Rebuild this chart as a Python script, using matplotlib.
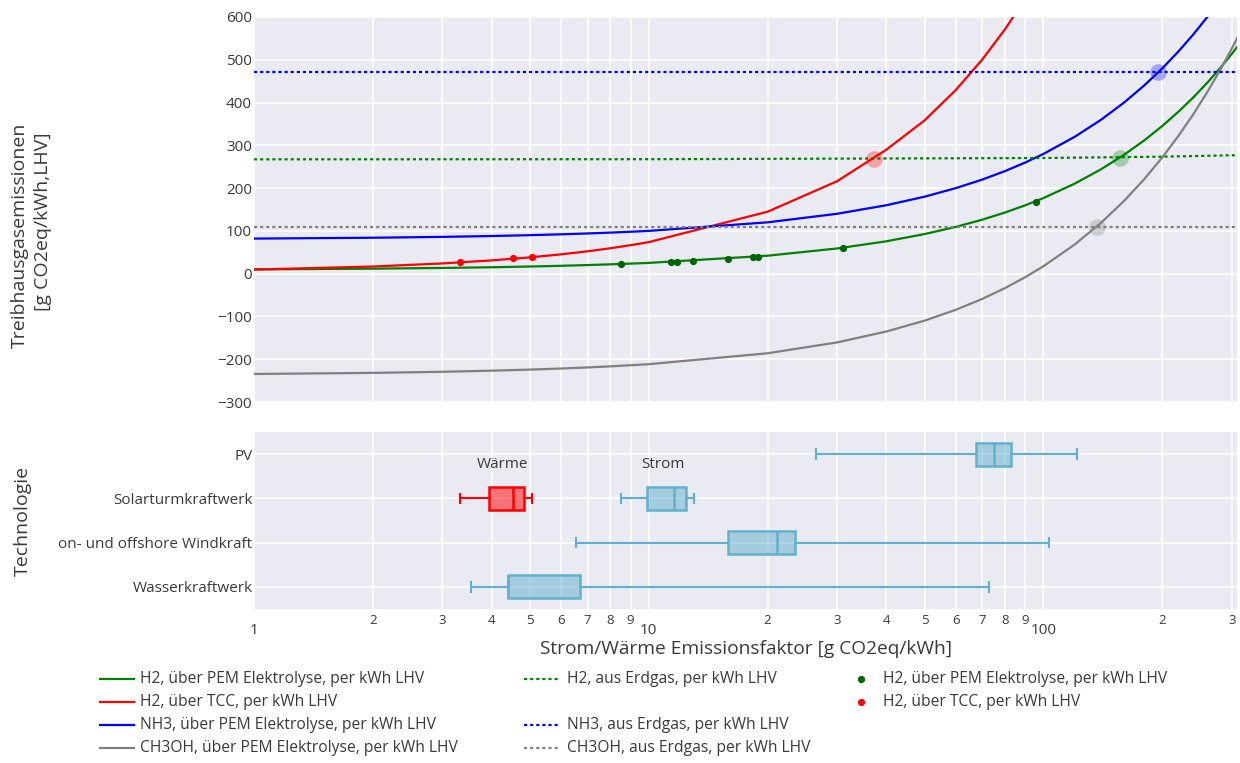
import matplotlib
matplotlib.use("Agg")
import matplotlib.pyplot as plt
from matplotlib.lines import Line2D
from matplotlib.ticker import FixedLocator, FixedFormatter, NullFormatter

plt.rcParams["font.family"] = ["Open Sans", "DejaVu Sans"]
TXT = "#3a3a3a"
BG = "#EAEAF2"

# ---------------- data ----------------
# emission factor of the electricity / heat supply [g CO2eq/kWh]
ef = [1, 2, 3, 4, 5, 6, 7, 8, 9, 10, 20, 30, 40, 50, 60, 70, 80, 90, 100,
      120, 140, 160, 180, 200, 220, 240, 260, 280, 300, 320]

h2_pem = [10.0, 11.7, 13.4, 15.0, 16.7, 18.4, 20.1, 21.8, 23.5, 25.2, 42.0, 58.9,
          75.7, 92.6, 109.4, 126.3, 143.1, 160.0, 176.8, 210.5, 244.2, 277.9,
          311.6, 345.3, 379.0, 412.7, 446.4, 480.1, 513.8, 547.5]
nh3_pem = [82, 84, 86, 88, 90, 92, 94, 96, 98, 100, 120, 140, 160, 180, 200, 220,
           240, 260, 280, 320, 360, 400, 440, 480, 520, 560, 600, 640, 680, 720]
ch3oh_pem = [-234.5, -231.9, -229.4, -226.8, -224.3, -221.7, -219.2, -216.6,
             -214.1, -211.6, -186.1, -160.7, -135.2, -109.8, -84.4, -58.9, -33.5,
             -8.0, 17.4, 68.3, 119.2, 170.0, 220.9, 271.8, 322.7, 373.6, 424.4,
             475.3, 526.2, 577.1]

ef_tcc = [1, 2, 3, 4, 5, 6, 7, 8, 9, 10, 20, 30, 40, 50, 60, 70, 80, 90]
h2_tcc = [9.6, 16.7, 23.9, 31.0, 38.1, 45.2, 52.3, 59.5, 66.6, 73.7, 144.9,
          216.1, 290.0, 358.5, 429.7, 500.9, 572.1, 643.3]

ef_gas = [1, 10, 100, 200, 320]
h2_gas = [267.3, 267.6, 270.4, 273.5, 277.2]
nh3_gas = [472, 472, 472, 472, 472]
ch3oh_gas = [110, 110, 110, 110, 110]

# break-even points (electrolysis / TCC route vs. natural gas route)
be_x = [37.3, 156.5, 195.4, 136.4]
be_y = [267.5, 271.0, 472.0, 110.0]
be_col = ["red", "green", "blue", "gray"]

# individual supply technologies placed on the curves
pts_pem_x = [8.52, 11.36, 11.81, 12.97, 15.85, 18.4, 18.94, 31.0, 95.7]
pts_pem_y = [22.0, 27.0, 27.5, 29.5, 34.5, 39.0, 39.5, 61.0, 168.5]
pts_tcc_x = [3.33, 4.52, 5.06]
pts_tcc_y = [27.5, 35.5, 40.0]

# box statistics per technology (electricity)
tech = ["Wasserkraftwerk", "on- und offshore Windkraft", "Solarturmkraftwerk", "PV"]
strom_lo = [3.55, 6.55, 8.51, 26.5]
strom_q1 = [4.40, 15.87, 9.92, 67.3]
strom_med = [4.40, 21.1, 11.59, 74.9]
strom_q3 = [6.70, 23.52, 12.42, 82.5]
strom_hi = [72.8, 103.5, 13.0, 121.9]
# heat from the solar tower
waerme_lo, waerme_q1, waerme_med, waerme_q3, waerme_hi = 3.33, 3.94, 4.52, 4.84, 5.06

major_x = [1, 10, 100]
major_lbl = ["1", "10", "100"]
minor_x = [2, 3, 4, 5, 6, 7, 8, 9, 20, 30, 40, 50, 60, 70, 80, 90, 200, 300]
minor_lbl = ["2", "3", "4", "5", "6", "7", "8", "9",
             "2", "3", "4", "5", "6", "7", "8", "9", "2", "3"]

# ---------------- figure ----------------
W, H = 1240, 763
fig = plt.figure(figsize=(W / 100, H / 100), dpi=100)


def fx(px):
    return px / W


def fy(py):
    return 1 - py / H


L, R = 254, 1237
ax = fig.add_axes([fx(L), fy(402), fx(R) - fx(L), fy(17) - fy(402)])
axb = fig.add_axes([fx(L), fy(609), fx(R) - fx(L), fy(432) - fy(609)])

XMAX = 309.2
for a in (ax, axb):
    a.set_facecolor(BG)
    a.set_xscale("log")
    a.set_xlim(1, XMAX)
    a.xaxis.set_major_locator(FixedLocator(major_x))
    a.xaxis.set_minor_locator(FixedLocator(minor_x))
    a.grid(True, which="both", color="white", lw=1.1)
    a.set_axisbelow(True)
    for s in a.spines.values():
        s.set_visible(False)
    a.tick_params(axis="both", which="both", length=0, colors=TXT)

ax.xaxis.set_major_formatter(NullFormatter())
ax.xaxis.set_minor_formatter(NullFormatter())
axb.xaxis.set_major_formatter(FixedFormatter(major_lbl))
axb.xaxis.set_minor_formatter(FixedFormatter(minor_lbl))
axb.tick_params(axis="x", which="major", pad=10.3, labelsize=11)
axb.tick_params(axis="x", which="minor", pad=3.3, labelsize=9.5)

# upper panel
LW = 1.6
DOT = (0, (1.4, 1.35))
ax.set_ylim(-300, 600)
ax.set_yticks(range(-300, 601, 100))
ax.tick_params(axis="y", pad=1.5, labelsize=11)

ax.plot(ef, h2_pem, color="green", lw=LW, zorder=3)
ax.plot(ef_tcc, h2_tcc, color="red", lw=LW, zorder=3)
ax.plot(ef, nh3_pem, color="blue", lw=LW, zorder=3)
ax.plot(ef, ch3oh_pem, color="gray", lw=LW, zorder=3)
ax.plot(ef_gas, h2_gas, color="green", lw=LW, ls=DOT, zorder=3)
ax.plot(ef_gas, nh3_gas, color="blue", lw=LW, ls=DOT, zorder=3)
ax.plot(ef_gas, ch3oh_gas, color="gray", lw=LW, ls=DOT, zorder=3)
for x, y, c in zip(be_x, be_y, be_col):
    ax.plot([x], [y], "o", ms=12, color=c, alpha=0.3, mec="none", zorder=4)
ax.plot(pts_pem_x, pts_pem_y, "o", ms=5.2, color="#006400", mec="none", zorder=5)
ax.plot(pts_tcc_x, pts_tcc_y, "o", ms=5.2, color="red", mec="none", zorder=5)

# lower panel
axb.set_ylim(-0.5, 3.5)
axb.tick_params(axis="y", pad=1, labelsize=11)

BLUE_EDGE = "#62B0CC"
stats_strom = [
    dict(whislo=lo, q1=a, med=m, q3=b, whishi=hi, fliers=[])
    for lo, a, m, b, hi in zip(strom_lo, strom_q1, strom_med, strom_q3, strom_hi)
]
stats_waerme = [dict(whislo=waerme_lo, q1=waerme_q1, med=waerme_med,
                     q3=waerme_q3, whishi=waerme_hi, fliers=[])]


def draw_boxes(stats, pos, edge, face):
    lp = dict(color=edge, lw=1.5)
    axb.bxp(stats, positions=pos, widths=0.52, orientation="horizontal",
            patch_artist=True, showfliers=False, capwidths=0.22,
            boxprops=dict(facecolor=face, edgecolor=edge, lw=1.8),
            whiskerprops=lp, capprops=lp, medianprops=dict(color=edge, lw=1.8),
            manage_ticks=False, zorder=3)


draw_boxes(stats_strom, [0, 1, 2, 3], BLUE_EDGE, (0.384, 0.69, 0.8, 0.5))
draw_boxes(stats_waerme, [2], "red", (1.0, 0.0, 0.0, 0.5))
axb.set_yticks(range(len(tech)))
axb.set_yticklabels(tech)

axb.text(4.25, 2.77, "Wärme", ha="center", va="center", fontsize=11, color=TXT)
axb.text(10.87, 2.77, "Strom", ha="center", va="center", fontsize=11, color=TXT)

# axis titles
TITLE_FS = 14
fig.text(fx(745.5), fy(649), "Strom/Wärme Emissionsfaktor [g CO2eq/kWh]",
         ha="center", va="center", fontsize=13.75, color=TXT)
fig.text(fx(19.5), fy(235.5), "Treibhausgasemissionen", rotation=90,
         ha="center", va="center", fontsize=TITLE_FS, color=TXT)
fig.text(fx(43), fy(221.5), "[g CO2eq/kWh,LHV]", rotation=90,
         ha="center", va="center", fontsize=TITLE_FS, color=TXT)
fig.text(fx(23), fy(520.5), "Technologie", rotation=90,
         ha="center", va="center", fontsize=TITLE_FS, color=TXT)

# legend
LEG_FS = 11.25
rows = [679, 702, 725, 748]
leg_lines = [
    (100, 134, 140, rows[0], "green", "-", "H2, über PEM Elektrolyse, per kWh LHV"),
    (100, 134, 140, rows[1], "red", "-", "H2, über TCC, per kWh LHV"),
    (100, 134, 140, rows[2], "blue", "-", "NH3, über PEM Elektrolyse, per kWh LHV"),
    (100, 134, 140, rows[3], "gray", "-", "CH3OH, über PEM Elektrolyse, per kWh LHV"),
    (524, 558, 567, rows[0], "green", DOT, "H2, aus Erdgas, per kWh LHV"),
    (524, 558, 567, rows[2], "blue", DOT, "NH3, aus Erdgas, per kWh LHV"),
    (524, 558, 567, rows[3], "gray", DOT, "CH3OH, aus Erdgas, per kWh LHV"),
]
for x0, x1, xt, y, c, ls, lbl in leg_lines:
    fig.add_artist(Line2D([fx(x0), fx(x1)], [fy(y), fy(y)], color=c, lw=LW, ls=ls,
                          transform=fig.transFigure))
    fig.text(fx(xt), fy(y), lbl, ha="left", va="center", fontsize=LEG_FS, color=TXT)

leg_pts = [
    (861, 883, rows[0], "#006400", "H2, über PEM Elektrolyse, per kWh LHV"),
    (861, 883, rows[1], "red", "H2, über TCC, per kWh LHV"),
]
for xm, xt, y, c, lbl in leg_pts:
    fig.add_artist(Line2D([fx(xm)], [fy(y)], marker="o", ms=5.2, color=c, mec="none",
                          ls="none", transform=fig.transFigure))
    fig.text(fx(xt), fy(y), lbl, ha="left", va="center", fontsize=LEG_FS, color=TXT)

fig.savefig("out.png", dpi=100, facecolor="white")
